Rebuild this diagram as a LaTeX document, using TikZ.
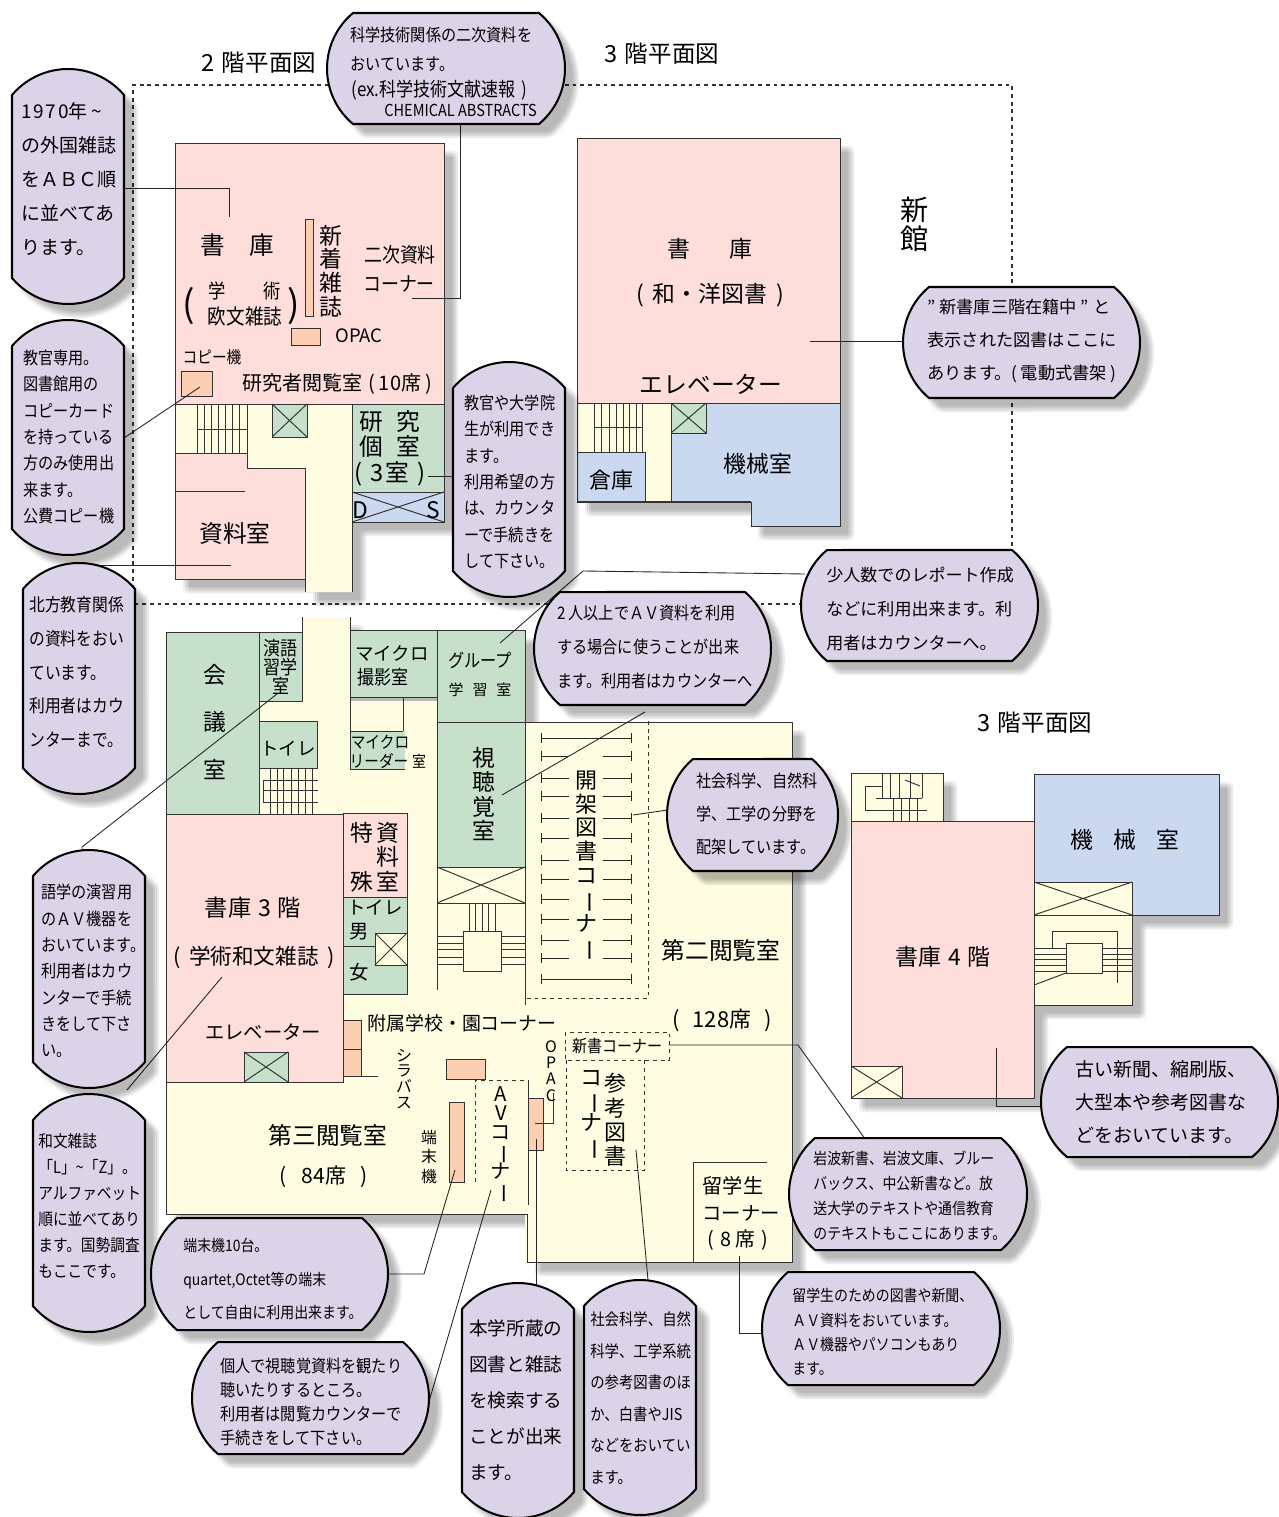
\documentclass[tikz,border=0pt]{standalone}
\usepackage{fontspec}
\setmainfont{Noto Sans CJK JP}
\newfontfamily\nar[FakeStretch=0.88]{Noto Sans CJK JP}
\definecolor{pinkroom}{HTML}{FDDEDA}
\definecolor{greenroom}{HTML}{C6E0CC}
\definecolor{yellowroom}{HTML}{FEFDE1}
\definecolor{blueroom}{HTML}{CAD9F0}
\definecolor{salmonbox}{HTML}{FCCFB2}
\definecolor{lilac}{HTML}{DBD4E8}
\newcommand{\tsize}[2]{\fontsize{#1}{#2}\selectfont}
\newcommand{\vbar}{\smash{\rotatebox[origin=c]{-90}{ー}}}
\tikzset{
  wall/.style={draw=black!80,line width=0.55pt},
  lead/.style={draw=black!85,line width=0.5pt},
  shelf/.style={draw=black!85,line width=0.55pt},
  dashwall/.style={draw=black!80,line width=0.55pt,dash pattern=on 2.2pt off 2.2pt},
  shadelayer/.style={fill=black,fill opacity=0.021,draw=none},
  pillbox/.style={fill=lilac,draw=black,line width=1.15pt},
}
% soft shadow: many faint shifted copies
\newcommand{\planshade}[1]{%
  \foreach \ox in {8,10,12,14} {\foreach \oy in {8,10,12,14} {\fill[shadelayer,shift={(\ox,\oy)}] #1;}}%
}
% vertical and horizontal callout shapes
\newcommand{\pillv}[4]{%
  \pgfmathsetmacro{\pillR}{(((#3-#1)/2)^2+26^2)/52}%
  \pgfmathsetmacro{\pillA}{asin((#3-#1)/2/\pillR)}%
  \def\pillbody{(#1,#4-26) -- (#1,#2+26) arc[start angle=270-\pillA,end angle=270+\pillA,radius=\pillR] -- (#3,#4-26) arc[start angle=90-\pillA,end angle=90+\pillA,radius=\pillR] -- cycle}%
  \planshade{\pillbody}
  \draw[pillbox] \pillbody;
}
\newcommand{\pillh}[4]{%
  \pgfmathsetmacro{\pillR}{(((#4-#2)/2)^2+26^2)/52}%
  \pgfmathsetmacro{\pillA}{asin((#4-#2)/2/\pillR)}%
  \def\pillbody{(#1+26,#4) arc[start angle=180-\pillA,end angle=180+\pillA,radius=\pillR] -- (#3-26,#2) arc[start angle=-\pillA,end angle=\pillA,radius=\pillR] -- cycle}%
  \planshade{\pillbody}
  \draw[pillbox] \pillbody;
}
\begin{document}
\begin{tikzpicture}[x=0.02cm,y=-0.02cm,every node/.style={inner sep=0pt}]
  \useasboundingbox (0,0) rectangle (1278,1517);
  % floor limits
  \draw[dashwall,line width=0.6pt] (133,604) -- (133,85) -- (1012,85) -- (1012,604) -- cycle;

  % shadows
  \planshade{(175,143) -- (444,143) -- (444,522) -- (352,522) -- (352,592) -- (305,592) -- (305,579) -- (175,579) -- cycle}
  \planshade{(577,138) -- (840,138) -- (840,526) -- (750,526) -- (750,502) -- (577,502) -- cycle}
  \planshade{(166,632) -- (302,632) -- (302,617) -- (350,617) -- (350,630) -- (525,630) -- (525,722) -- (792,722) -- (792,1262) -- (527,1262) -- (527,1214) -- (166,1214) -- cycle}
  \planshade{(851,773) -- (943,773) -- (943,821) -- (1034,821) -- (1034,774) -- (1219,774) -- (1219,915) -- (1132,915) -- (1132,1005) -- (1034,1005) -- (1034,1098) -- (851,1098) -- cycle}

  % 2nd floor, left block
  \fill[yellowroom] (175,403) rectangle (352,453) (247,453) rectangle (352,468) (305,468) rectangle (352,592);
  \draw[wall] (305,579) -- (305,592) (352,522) -- (352,592);
  \draw[wall,fill=pinkroom] (175,143) rectangle (444,404);
  \draw[wall,fill=pinkroom] (175,453) -- (247,453) -- (247,468) -- (305,468) -- (305,579) -- (175,579) -- cycle;
  \draw[wall] (175,404) -- (175,453);
  \draw[wall] (175,491) -- (245,491);
  \foreach \x in {197,204,211,218,225,232,239,247} {\draw[wall] (\x,404) -- (\x,453);}
  \draw[wall] (197,429) -- (247,429);
  \draw[wall,fill=greenroom] (272,404) rectangle (307,437);
  \draw[wall] (272,404) -- (307,437) (307,404) -- (272,437);
  \draw[wall,fill=greenroom] (352,404) rectangle (444,492);
  \draw[wall,fill=blueroom] (352,492) rectangle (444,522);
  \draw[wall] (352,492) -- (444,522) (444,492) -- (352,522);
  \draw[wall,fill=salmonbox] (181,371) rectangle (212,396);
  \draw[wall,fill=salmonbox] (291,328) rectangle (320,345);
  \draw[wall,fill=salmonbox] (305,219) rectangle (313,316);

  \node[font=\tsize{14}{16}] (stacks2a) at (237,245) {書\hspace{1em}庫};
  \node[font=\tsize{21}{24}] (parenL) at (189,306) {(};
  \node[font=\tsize{21}{24}] (parenR) at (294,306) {)};
  \node[font=\nar\tsize{11.2}{14}] (gakujutsu) at (245,291) {学\hspace{1.9em}術};
  \node[font=\nar\tsize{12}{14}] (oubun) at (245,316) {欧文雑誌};
  \node[font=\tsize{13}{13.4},align=center] (shinchaku) at (331,271) {新\\着\\雑\\誌};
  \node[font=\nar\tsize{11.6}{16}] (nijia) at (400,255) {二次資料};
  \node[font=\nar\tsize{11.6}{16}] (nijib) at (399,284) {コーナー};
  \node[font=\tsize{10.5}{12}] (opac2) at (359,336) {OPAC};
  \node[font=\nar\tsize{9.5}{12}] (copy2) at (212,357) {コピー機};
  \node[font=\tsize{11.4}{14}] (kenkyusha) at (337,384) {研究者閲覧室\hspace{.3em}(\hspace{.2em}10席\hspace{.2em})};
  \node[font=\tsize{13.5}{14.6},align=center] (kobetsu) at (390,434) {研\hspace{.55em}究\\個\hspace{.55em}室};
  \node[font=\tsize{13.5}{15}] (sanshitsu) at (390,474) {(\hspace{.35em}3\hspace{.1em}室\hspace{.35em})};
  \node[font=\tsize{13}{15}] (dmark) at (360,510) {D};
  \node[font=\tsize{13}{15}] (smark) at (433,510) {S};
  \node[font=\tsize{13.5}{15}] (shiryo) at (235,534) {資料室};

  % 3rd floor, right block
  \fill[yellowroom] (577,403) rectangle (671,502);
  \draw[wall] (577,403) -- (577,452);
  \draw[wall,fill=pinkroom] (577,138) rectangle (840,403);
  \foreach \x in {594,601,609,616,623,629,636,642} {\draw[wall] (\x,403) -- (\x,452);}
  \draw[wall] (594,427) -- (642,427);
  \draw[wall,fill=blueroom] (577,452) -- (645,452) -- (645,502) -- (577,502) -- cycle;
  \draw[wall,fill=blueroom] (671,403) -- (840,403) -- (840,526) -- (751,526) -- (751,502) -- (671,502) -- cycle;
  \draw[wall,line width=0.7pt] (577,502) -- (751,502);
  \draw[wall,fill=greenroom] (671,403) rectangle (706,433);
  \draw[wall] (671,403) -- (706,433) (706,403) -- (671,433);
  \node[font=\tsize{13}{16}] (stacks3) at (710,249) {書\hspace{1.75em}庫};
  \node[font=\tsize{13}{16}] (wayo) at (710,295) {(\hspace{.4em}和・洋図書\hspace{.4em})};
  \node[font=\tsize{13.5}{16}] (elev3) at (711,384) {エレベーター};
  \node[font=\tsize{12.5}{15}] (souko) at (611,480) {倉庫};
  \node[font=\tsize{13}{15}] (kikai3) at (758,464) {機械室};
  \node[font=\tsize{16}{16.5},align=center] (shinkan) at (915,224) {新\\館};

  % titles
  \node[font=\tsize{13.4}{15}] (titleA) at (259,63) {2\hspace{.3em}階平面図};
  \node[font=\tsize{13.4}{15}] (titleB) at (662,54) {3\hspace{.3em}階平面図};
  \node[font=\tsize{13.4}{15}] (titleC) at (1035,723) {3\hspace{.3em}階平面図};

  % main floor
  \fill[yellowroom] (259,701) rectangle (437,1000) (302,617) rectangle (350,701) (437,867) rectangle (525,1005) (166,1082) rectangle (528,1214) (343,990) rectangle (792,1082) (525,722) rectangle (792,1262);
  \draw[wall] (302,617) -- (302,632) (350,617) -- (350,630);
  \draw[wall] (525,722) -- (792,722) -- (792,1262) -- (527,1262) -- (527,1214) -- (166,1214) -- (166,1082);
  \draw[wall,fill=greenroom] (166,632) rectangle (259,814);
  \draw[wall,fill=greenroom] (259,632) rectangle (302,701);
  \draw[wall,fill=greenroom] (259,721) rectangle (317,768);
  \foreach \x in {270,277,283,291,298,305,312} {\draw[wall] (\x,768) -- (\x,814);}
  \foreach \y in {780,790,802} {\draw[wall] (263,\y) -- (318,\y);}
  \draw[wall] (263,780) -- (263,802);
  \draw[wall,fill=greenroom] (350,630) rectangle (437,697);
  \draw[wall] (350,697) rectangle (403,731);
  \fill[greenroom] (350,731) rectangle (405,769);
  \draw[wall] (350,731) -- (403,731) (350,731) -- (350,769) -- (405,769);
  \draw[wall,fill=greenroom] (437,630) rectangle (525,722);
  \draw[wall,fill=greenroom] (437,722) rectangle (525,867);
  \draw[wall] (437,867) rectangle (525,903);
  \draw[wall] (437,867) -- (525,903) (525,867) -- (437,903);
  \draw[wall] (437,903) -- (437,990) (525,903) -- (525,1005);
  \draw[wall] (463,931) rectangle (501,971);
  \foreach \x in {469,475,482,488,495} {\draw[wall] (\x,903) -- (\x,931);}
  \foreach \y in {936,943,949,957,964} {\draw[wall] (437,\y) -- (463,\y) (501,\y) -- (525,\y);}
  \draw[wall,fill=pinkroom] (166,814) rectangle (343,1082);
  \draw[wall,fill=pinkroom] (343,813) rectangle (407,897);
  \draw[wall,fill=greenroom] (343,897) rectangle (407,994);
  \draw[wall] (343,946) -- (375,946);
  \draw[wall,fill=yellowroom] (375,933) rectangle (407,965);
  \draw[wall] (375,933) -- (407,965) (407,933) -- (375,965);
  \draw[wall,fill=greenroom] (244,1052) rectangle (288,1082);
  \draw[wall] (244,1052) -- (288,1082) (288,1052) -- (244,1082);
  \draw[wall,fill=salmonbox] (343,1020) rectangle (361,1049);
  \draw[wall,fill=salmonbox] (343,1049) rectangle (361,1076);
  \draw[wall] (361,1076) -- (378,1076);
  \draw[wall,fill=salmonbox] (446,1059) rectangle (485,1079);
  \draw[wall,fill=salmonbox] (449,1102) rectangle (464,1182);
  \draw[wall,fill=salmonbox] (528,1098) rectangle (543,1150);
  \draw[wall] (528,1080) -- (528,1205);
  \draw[wall] (553,1093) -- (553,1123) -- (535,1123);
  % open shelves
  \foreach \y in {738,979} {\draw[shelf,|-|] (541,\y) -- (632,\y);}
  \foreach \y in {756,778,796,818,838,860,879,899,919,940,958} {\draw[shelf,|-] (541,\y) -- (569,\y); \draw[shelf,-|] (603,\y) -- (632,\y);}
  \draw[dashwall] (648,721) -- (648,998) -- (525,998);
  \draw[dashwall] (565,1032) rectangle (669,1060);
  \draw[dashwall] (566,1060) -- (566,1170) -- (644,1170) -- (644,1060);
  \draw[dashwall] (475,1182) -- (475,1080) -- (528,1080);
  \draw[wall] (767,1162) -- (693,1162) -- (693,1262);

  \node[font=\tsize{13}{27},align=center] (kaigi) at (215,722) {会\\議\\室};
  \node[font=\nar\tsize{11}{10.9},align=left,anchor=north west] (engo) at (263,639) {演語\\習学\\\hspace{.45em}室};
  \node[font=\tsize{10.5}{12}] (toiletA) at (288,749) {トイレ};
  \node[font=\tsize{10.5}{12}] (micro1) at (392,653) {マイクロ};
  \node[font=\nar\tsize{11}{12}] (satsuei) at (383,677) {撮影室};
  \node[font=\nar\tsize{9.5}{12}] (micro2) at (380,742) {マイクロ};
  \node[font=\nar\tsize{9.5}{12}] (reader) at (379,761) {リーダー};
  \node[font=\nar\tsize{9}{12}] (readerRoom) at (419,761) {室};
  \node[font=\nar\tsize{10.5}{12}] (group) at (480,660) {グループ};
  \node[font=\tsize{8.5}{12}] (gakushu) at (480,690) {学\hspace{.6em}習\hspace{.6em}室};
  \node[font=\tsize{13}{13.7},align=center] (shichokaku) at (484,794) {視\\聴\\覚\\室};
  \node[font=\tsize{13.2}{15}] (stacksB) at (253,908) {書庫\hspace{.3em}3\hspace{.3em}階};
  \node[font=\tsize{12.3}{15}] (wabun) at (254,957) {(\hspace{.4em}学術和文雑誌\hspace{.4em})};
  \node[font=\tsize{11}{15}] (elevB) at (263,1032) {エレベーター};
  \node[font=\tsize{13}{13.9},align=left] (tokushu) at (375,857) {特\,資\\\hspace{1.15em}料\\殊\,室};
  \node[font=\tsize{10.5}{12}] (toiletB) at (375,908) {トイレ};
  \node[font=\tsize{11}{12}] (otoko) at (359,932) {男};
  \node[font=\tsize{11}{12}] (onna) at (359,972) {女};
  \node[font=\tsize{10.8}{13}] (fuzoku) at (462,1023) {附属学校・園コーナー};
  \node[font=\tsize{9}{9},align=center] (syllabus) at (404,1079) {シ\\ラ\\バ\\ス};
  \node[font=\tsize{9}{11.3},align=center] (tanmatsu) at (429,1157) {端\\末\\機};
  \node[font=\tsize{13.5}{15}] (daisan) at (328,1135) {第三閲覧室};
  \node[font=\tsize{12}{15}] (seki84) at (324,1177) {(\hspace{.7em}84席\hspace{.7em})};
  \node[font=\tsize{13.5}{15}] (daini) at (721,950) {第二閲覧室};
  \node[font=\tsize{12.5}{15}] (seki128) at (722,1020) {(\hspace{.6em}128席\hspace{.6em})};
  \node[font=\tsize{12.5}{13.6},align=center] (kaika) at (586,863) {開\\架\\図\\書\\コ\\\vbar\\ナ\\\vbar};
  \node[font=\nar\tsize{9.7}{12}] (shinsho) at (617,1046) {新書コーナー};
  \node[font=\tsize{12.5}{13.8},align=center] (sankoA) at (615,1120) {参\\考\\図\\書};
  \node[font=\tsize{12.5}{13},align=center] (sankoB) at (591,1112) {コ\\\vbar\\ナ\\\vbar};
  \node[font=\tsize{9}{9.3},align=center] (opacV) at (551,1071) {O\\P\\A\\C};
  \node[font=\tsize{11.5}{11},align=center] (avcorner) at (501,1142) {A\\V\\コ\\\vbar\\ナ\\\vbar};
  \node[font=\tsize{11.5}{15}] (ryugakuA) at (733,1186) {留学生};
  \node[font=\tsize{11}{15}] (ryugakuB) at (741,1213) {コーナー};
  \node[font=\tsize{11.3}{15}] (ryugakuC) at (738,1240) {(\hspace{.3em}8\hspace{.2em}席\hspace{.3em})};

  % upper floor wing
  \draw[wall,fill=yellowroom] (851,773) rectangle (943,821);
  \foreach \x in {882,890,899,910,922} {\draw[wall] (\x,773) -- (\x,798);}
  \draw[wall] (876,798) -- (922,798);
  \foreach \x in {893,901,909,917} {\draw[wall] (\x,798) -- (\x,821);}
  \draw[wall] (882,786) -- (865,786) -- (865,810) -- (927,810);
  \draw[wall] (905,780) -- (920,786);
  \draw[wall,fill=blueroom] (1034,774) rectangle (1219,915);
  \draw[wall,fill=pinkroom] (851,821) rectangle (1034,1098);
  \draw[wall,fill=yellowroom] (1034,882) rectangle (1132,1005);
  \draw[wall] (1034,915) -- (1132,915);
  \draw[wall] (1034,882) -- (1132,915) (1132,882) -- (1034,915);
  \foreach \y in {948,954,959,965,971} {\draw[wall] (1034,\y) -- (1066,\y) (1102,\y) -- (1132,\y);}
  \draw[wall,fill=yellowroom] (1066,943) rectangle (1102,973);
  \draw[wall] (1052,948) -- (1052,931) -- (1117,931) -- (1117,983);
  \draw[wall] (1034,985) -- (1066,973);
  \draw[wall,fill=yellowroom] (851,1066) rectangle (902,1098);
  \draw[wall] (851,1066) -- (902,1098) (902,1066) -- (851,1098);
  \node[font=\tsize{13}{15}] (kikai4) at (1125,840) {機\hspace{.9em}械\hspace{.9em}室};
  \node[font=\tsize{13}{15}] (stacks4) at (943,957) {書庫\hspace{.3em}4\hspace{.3em}階};

  % leader lines
  \coordinate (la1) at (125,188); \coordinate (la2) at (229,217);
  \coordinate (lb1) at (460,124); \coordinate (lb2) at (412,298);
  \coordinate (lc1) at (124,438); \coordinate (lc2) at (200,387);
  \coordinate (ld1) at (100,565); \coordinate (ld2) at (231,565);
  \coordinate (le1) at (428,476); \coordinate (le2) at (453,476);
  \coordinate (lf1) at (810,341); \coordinate (lf2) at (904,341);
  \coordinate (lg1) at (500,643); \coordinate (lg2) at (583,571); \coordinate (lg3) at (805,574);
  \coordinate (lh1) at (502,795); \coordinate (lh2) at (645,712);
  \coordinate (li1) at (82,850);  \coordinate (li2) at (82,847);  \coordinate (li3) at (277,694);
  \coordinate (lj1) at (222,977); \coordinate (lj2) at (127,1090);
  \coordinate (lk1) at (633,815); \coordinate (lk2) at (668,810);
  \coordinate (ll1) at (669,1045); \coordinate (ll2) at (798,1045); \coordinate (ll3) at (868,1143);
  \coordinate (lm1) at (739,1256); \coordinate (lm2) at (762,1333);
  \coordinate (ln1) at (996,1048); \coordinate (ln2) at (1042,1106);
  \coordinate (lo1) at (455,1170); \coordinate (lo2) at (424,1274); \coordinate (lo3) at (388,1274);
  \coordinate (lp1) at (491,1190); \coordinate (lp2) at (428,1405);
  \coordinate (lq1) at (536,1139); \coordinate (lq2) at (536,1285);
  \coordinate (lr1) at (636,1150); \coordinate (lr2) at (648,1280);
  \draw[lead] (la1) -| (la2);
  \draw[lead] (lb1) |- (lb2);
  \draw[lead] (lc1) -- (lc2);
  \draw[lead] (ld1) -- (ld2);
  \draw[lead] (le1) -- (le2);
  \draw[lead] (lf1) -- (lf2);
  \draw[lead] (lg1) -- (lg2) -- (lg3);
  \draw[lead] (lh1) -- (lh2);
  \draw[lead] (li1) -- (li2) -- (li3);
  \draw[lead] (lj1) -- (lj2);
  \draw[lead] (lk1) -- (lk2);
  \draw[lead] (ll1) -- (ll2) -- (ll3);
  \draw[lead] (lm1) |- (lm2);
  \draw[lead] (ln1) |- (ln2);
  \draw[lead] (lo1) -- (lo2) -- (lo3);
  \draw[lead] (lp1) -- (lp2);
  \draw[lead] (lq1) -- (lq2);
  \draw[lead] (lr1) -- (lr2);

  % callouts
  \pillv{12}{69}{124}{304}
  \node[font=\tsize{10.8}{19.3},align=left,anchor=west] (noteA) at (21,179) {1\kern1pt 9\kern1pt 7\kern1pt 0年\hspace{.2em}\textasciitilde\\の外国雑誌\\をＡＢＣ順\\に並べてあ\\ります。};
  \pillv{12}{320}{124}{555}
  \node[font=\nar\tsize{9.8}{15.05},align=left,anchor=west] (noteB) at (23,437) {教官専用。\\図書館用の\\コピーカード\\を持っている\\方のみ使用出\\来ます。\\公費コピー機};
  \pillv{23}{563}{135}{794}
  \node[font=\nar\tsize{10.2}{19.2},align=left,anchor=west] (noteC) at (29,672) {北方教育関係\\の資料をおい\\ています。\\利用者はカウ\\ンターまで。};
  \pillv{453}{362}{565}{597}
  \node[font=\nar\tsize{9.8}{15},align=left,anchor=west] (noteD) at (464,482) {教官や大学院\\生が利用でき\\ます。\\利用希望の方\\は、カウンタ\\ーで手続きを\\して下さい。};
  \pillv{33}{850}{145}{1088}
  \node[font=\nar\tsize{9.8}{15},align=left,anchor=west] (noteE) at (41,971) {語学の演習用\\のＡＶ機器を\\おいています。\\利用者はカウ\\ンターで手続\\きをして下さ\\い。};
  \pillv{33}{1094}{145}{1332}
  \node[font=\nar\tsize{9.5}{14.8},align=left,anchor=west] (noteF) at (38,1206) {和文雑誌\\「L」\textasciitilde「Z」。\\アルファベット\\順に並べてあり\\ます。国勢調査\\もここです。};
  \pillv{462}{1283}{574}{1518}
  \node[font=\tsize{10.6}{20.4},align=left,anchor=west] (noteG) at (469,1400) {本学所蔵の\\図書と雑誌\\を検索する\\ことが出来\\ます。};
  \pillv{584}{1280}{696}{1515}
  \node[font=\nar\tsize{9.3}{17.9},align=left,anchor=west] (noteH) at (590,1398) {社会科学、自然\\科学、工学系統\\の参考図書のほ\\か、白書やJIS\\などをおいてい\\ます。};

  \pillh{327}{13}{565}{124}
  \node[font=\nar\tsize{9.8}{12},anchor=west] (noteJa) at (350,35) {科学技術関係の二次資料を};
  \node[font=\nar\tsize{9.8}{12},anchor=west] (noteJb) at (350,64) {おいています。};
  \node[font=\nar\tsize{11}{12},anchor=west] (noteJc) at (351,90) {(ex.科学技術文献速報\hspace{.3em})};
  \node[font=\nar\tsize{9.4}{12},anchor=west] (noteJd) at (384,110) {CHEMICAL ABSTRACTS};
  \pillh{903}{287}{1140}{398}
  \node[font=\tsize{9.8}{18.7},align=left,anchor=west] (noteK) at (927,341) {" 新書庫三階在籍中 " と\\表示された図書はここに\\あります。(\hspace{.2em}電動式書架\hspace{.2em})};
  \pillh{801}{550}{1038}{661}
  \node[font=\tsize{9.7}{19.3},align=left,anchor=west] (noteL) at (826,609) {少人数でのレポート作成\\などに利用出来ます。利\\用者はカウンターへ。};
  \pillh{534}{592}{771}{705}
  \node[font=\nar\tsize{9.8}{19.3},align=left,anchor=west] (noteM) at (557,647) {2\,人以上でＡＶ資料を利用\\する場合に使うことが出来\\ます。利用者はカウンターへ};
  \pillh{667}{759}{838}{871}
  \node[font=\nar\tsize{9.8}{19},align=left,anchor=west] (noteN) at (696,814) {社会科学、自然科\\学、工学の分野を\\配架しています。};
  \pillh{1041}{1047}{1278}{1157}
  \node[font=\tsize{10.8}{19},align=left,anchor=west] (noteP) at (1075,1102) {古い新聞、縮刷版、\\大型本や参考図書な\\どをおいています。};
  \pillh{789}{1138}{1027}{1250}
  \node[font=\nar\tsize{9}{14.2},align=left,anchor=west] (noteQ) at (813,1196) {岩波新書、岩波文庫、ブルー\\バックス、中公新書など。放\\送大学のテキストや通信教育\\のテキストもここにあります。};
  \pillh{762}{1272}{1000}{1385}
  \node[font=\nar\tsize{9}{13.8},align=left,anchor=west] (noteR) at (792,1332) {留学生のための図書や新聞、\\ＡＶ資料をおいています。\\ＡＶ機器やパソコンもあり\\ます。};
  \pillh{151}{1218}{388}{1330}
  \node[font=\nar\tsize{9}{19},align=left,anchor=west] (noteS) at (183,1279) {端末機10台。\\quartet,Octet等の端末\\として自由に利用出来ます。};
  \pillh{192}{1342}{429}{1454}
  \node[font=\nar\tsize{9.8}{13.7},align=left,anchor=west] (noteT) at (220,1402) {個人で視聴覚資料を観たり\\聴いたりするところ。\\利用者は閲覧カウンターで\\手続きをして下さい。};
\end{tikzpicture}
\end{document}
